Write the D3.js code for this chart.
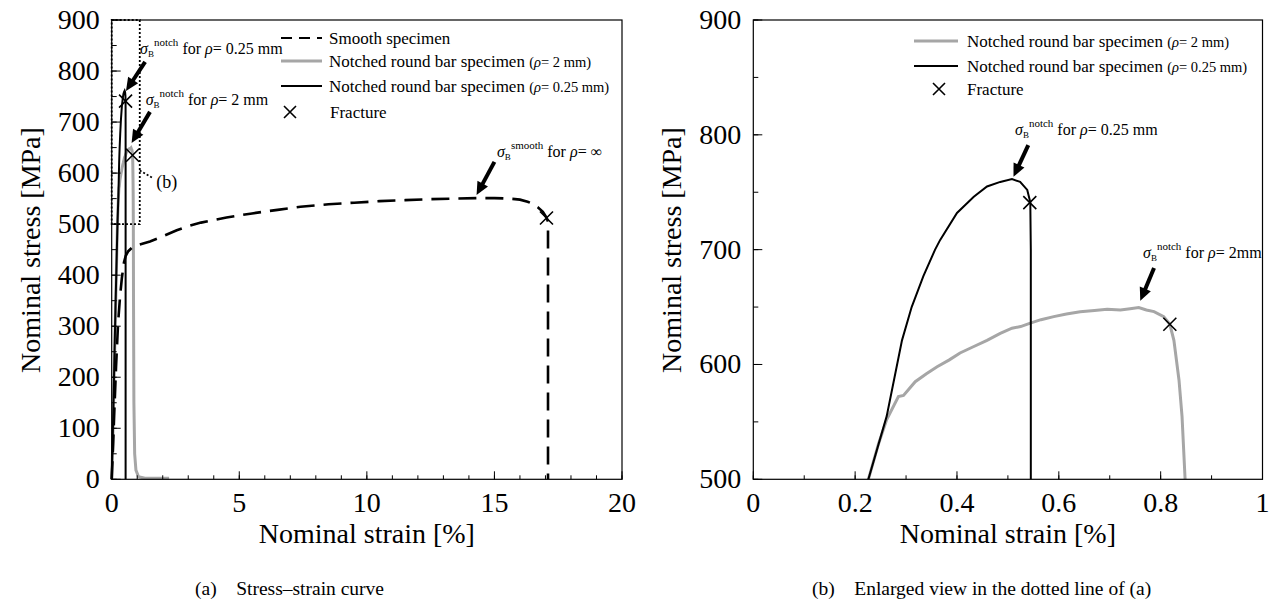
<!DOCTYPE html>
<html><head><meta charset="utf-8">
<script src="https://cdn.jsdelivr.net/npm/d3@7"></script>
<style>
html,body{margin:0;padding:0;background:#fff;}
svg, svg text{font-family:"Liberation Serif","Times New Roman",Times,"DejaVu Serif",serif;}
</style></head>
<body>
<svg id="c" width="1279" height="606" font-family="Liberation Serif, Times New Roman, Times, DejaVu Serif, serif"></svg>
<script>
// ---------- data ----------
const smoothStrain = [0,0.05,0.1,0.17,0.25,0.33,0.4,0.48,0.55,0.65,0.8,1.03,1.5,2.0,2.55,3.0,3.5,4.5,5.5,6.5,7.4,8.5,9.5,10.5,11.5,12.5,13.5,14.3,15.0,15.6,16.0,16.3,16.5,16.7,16.9,17.04,17.1,17.1,17.1];
const smoothStress = [0,60,130,220,306,360,395,425,438,447,454,459,466,476,488,496,503,513,521,528,534,539,542,545,547,549,550,551,551,550,548,544,540,533,524,513,505,300,0];

const notch2Strain = [0,0.04,0.09,0.15,0.2,0.226,0.246,0.262,0.285,0.295,0.318,0.34,0.361,0.385,0.406,0.43,0.459,0.485,0.508,0.525,0.544,0.565,0.59,0.615,0.642,0.67,0.695,0.721,0.74,0.757,0.772,0.787,0.806,0.818,0.826,0.836,0.842,0.848,0.855,0.87,0.9,0.95,1.05,1.3,2.25];
const notch2Stress = [0,70,190,330,445,500,531,552,572,573,585,592,598,604,610,615,621,627,631.6,633,636,639,641.7,644,646,647,648,647.5,648.5,649.5,647.5,646,641.7,635,621,586.5,554.5,500,350,150,50,18,5,2,2];

const notch025Strain = [0,0.04,0.09,0.15,0.2,0.226,0.262,0.292,0.311,0.334,0.357,0.367,0.4,0.433,0.459,0.485,0.508,0.524,0.538,0.543,0.544,0.545,0.545];
const notch025Stress = [0,80,200,340,445,500,555,621,650,677,700,708.5,732,746,755,759,761.4,759,752,743,741,700,0];

const fractureStrain = [0.543,0.818,17.04];
const fractureStress = [741,635,512];

const xTicksA = [0,5,10,15,20];
const yTicksA = [0,100,200,300,400,500,600,700,800,900];
const xTicksB = [0,0.2,0.4,0.6,0.8,1];
const yTicksB = [500,600,700,800,900];

// ---------- setup ----------
const svg = d3.select("#c");
const BLACK = "#000", GRAY = "#a6a6a6";
const zip = (a,b)=>a.map((v,i)=>[v,b[i]]);
const smooth = zip(smoothStrain, smoothStress);
const notch2 = zip(notch2Strain, notch2Stress);
const notch025 = zip(notch025Strain, notch025Stress);
const fractures = zip(fractureStrain, fractureStress);

function drawX(g, cx, cy, r){
  g.append("path").attr("d",`M${cx-r},${cy-r}L${cx+r},${cy+r}M${cx-r},${cy+r}L${cx+r},${cy-r}`)
   .attr("stroke",BLACK).attr("stroke-width",1.6).attr("fill","none");
}
function drawArrow(g, x0,y0,x1,y1){
  const dx=x1-x0, dy=y1-y0, L=Math.hypot(dx,dy), ux=dx/L, uy=dy/L;
  const hl=13, hw=6;
  const bx=x1-ux*hl, by=y1-uy*hl;
  g.append("line").attr("x1",x0).attr("y1",y0).attr("x2",bx+ux*2).attr("y2",by+uy*2)
   .attr("stroke",BLACK).attr("stroke-width",4);
  g.append("path").attr("d",`M${x1},${y1}L${bx-uy*hw},${by+ux*hw}L${bx+uy*hw},${by-ux*hw}Z`).attr("fill",BLACK);
}
function sigmaLabel(g, x, y, sup, rest){
  const t = g.append("text").attr("x",x).attr("y",y).attr("font-size",16).attr("fill",BLACK);
  t.append("tspan").attr("font-style","italic").text("σ");
  t.append("tspan").attr("font-size",9).attr("dy",3).text("B");
  t.append("tspan").attr("font-size",11).attr("dy",-11).text(sup);
  t.append("tspan").attr("dy",8).text(" for ");
  t.append("tspan").attr("font-style","italic").text("ρ");
  t.append("tspan").text("= " + rest);
}
function axes(g, x, y, xMajor, xMinorStep, yMajor, yMinorStep, xFmt){
  const [x0,x1]=x.domain(), [y0,y1]=y.domain();
  const xm = d3.range(x0, x1+1e-9, xMinorStep);
  const ym = d3.range(y0, y1+1e-9, yMinorStep);
  g.selectAll(null).data(xm).enter().append("line")
    .attr("x1",d=>x(d)).attr("x2",d=>x(d)).attr("y1",y(y0)).attr("y2",y(y0)-4)
    .attr("stroke",BLACK).attr("stroke-width",1);
  g.selectAll(null).data(ym).enter().append("line")
    .attr("y1",d=>y(d)).attr("y2",d=>y(d)).attr("x1",x(x0)).attr("x2",x(x0)+5)
    .attr("stroke",BLACK).attr("stroke-width",1);
  g.selectAll(null).data(xMajor).enter().append("line")
    .attr("x1",d=>x(d)).attr("x2",d=>x(d)).attr("y1",y(y0)).attr("y2",y(y0)-8)
    .attr("stroke",BLACK).attr("stroke-width",1);
  g.selectAll(null).data(yMajor).enter().append("line")
    .attr("y1",d=>y(d)).attr("y2",d=>y(d)).attr("x1",x(x0)).attr("x2",x(x0)+9)
    .attr("stroke",BLACK).attr("stroke-width",1);
  g.append("rect").attr("x",x(x0)).attr("y",y(y1)).attr("width",x(x1)-x(x0)).attr("height",y(y0)-y(y1))
    .attr("fill","none").attr("stroke",BLACK).attr("stroke-width",1.2);
  g.selectAll(null).data(xMajor).enter().append("text")
    .attr("x",d=>x(d)).attr("y",y(y0)+33).attr("text-anchor","middle").attr("font-size",28).text(xFmt);
  g.selectAll(null).data(yMajor).enter().append("text")
    .attr("x",x(x0)-12).attr("y",d=>y(d)+9).attr("text-anchor","end").attr("font-size",28).text(d=>d);
}
function legendText(g, x, y, rho){
  const t = g.append("text").attr("x",x).attr("y",y).attr("font-size",17).text("Notched round bar specimen ");
  t.append("tspan").attr("font-size",14.5).text("(");
  t.append("tspan").attr("font-size",14.5).attr("font-style","italic").text("ρ");
  t.append("tspan").attr("font-size",14.5).text("= " + rho + ")");
}

// ================= (a) =================
const xA = d3.scaleLinear().domain([0,20]).range([111.7,622]);
const yA = d3.scaleLinear().domain([0,900]).range([479.3,20]);
const gA = svg.append("g");
const lineA = d3.line().x(d=>xA(d[0])).y(d=>yA(d[1]));
gA.append("path").datum(notch2).attr("d",lineA).attr("fill","none").attr("stroke",GRAY).attr("stroke-width",3);
gA.append("path").datum(notch025).attr("d",lineA).attr("fill","none").attr("stroke",BLACK).attr("stroke-width",2);
gA.append("path").datum(smooth).attr("d",lineA).attr("fill","none").attr("stroke",BLACK).attr("stroke-width",2.6)
  .attr("stroke-dasharray","18,9");
axes(gA, xA, yA, xTicksA, 1, yTicksA, 50, d=>d);
fractures.forEach(f=>drawX(gA, xA(f[0]), yA(f[1]), 6.5));
gA.append("rect").attr("x",xA(0)).attr("y",yA(900)).attr("width",xA(1.1)-xA(0)).attr("height",yA(500)-yA(900))
  .attr("fill","none").attr("stroke",BLACK).attr("stroke-width",1.8).attr("stroke-dasharray","2,2");
gA.append("line").attr("x1",xA(1.1)).attr("y1",yA(605)).attr("x2",xA(1.62)).attr("y2",yA(590))
  .attr("stroke",BLACK).attr("stroke-width",1.8).attr("stroke-dasharray","2,2");
gA.append("text").attr("x",xA(1.75)).attr("y",yA(570)).attr("font-size",18).text("(b)");
drawArrow(gA, xA(1.31), yA(818), xA(0.56), yA(761));
sigmaLabel(gA, xA(1.11), 54, "notch", "0.25 mm");
drawArrow(gA, xA(1.5), yA(720), xA(0.78), yA(659));
sigmaLabel(gA, xA(1.33), 105, "notch", "2 mm");
drawArrow(gA, xA(15.0), yA(622), xA(14.3), yA(557));
sigmaLabel(gA, xA(15.1), 157, "smooth", "∞");
const lgA = gA.append("g");
lgA.append("line").attr("x1",281).attr("x2",322).attr("y1",38).attr("y2",38).attr("stroke",BLACK).attr("stroke-width",2.2).attr("stroke-dasharray","11,7");
lgA.append("text").attr("x",329).attr("y",44).attr("font-size",17).text("Smooth specimen");
lgA.append("line").attr("x1",281).attr("x2",322).attr("y1",61).attr("y2",61).attr("stroke",GRAY).attr("stroke-width",3);
legendText(lgA, 329, 67, "2 mm");
lgA.append("line").attr("x1",281).attr("x2",322).attr("y1",86).attr("y2",86).attr("stroke",BLACK).attr("stroke-width",2);
legendText(lgA, 329, 92, "0.25 mm");
drawX(lgA, 290, 112, 6);
lgA.append("text").attr("x",330).attr("y",118).attr("font-size",17).text("Fracture");
gA.append("text").attr("x",(111.7+622)/2).attr("y",543).attr("text-anchor","middle").attr("font-size",28).text("Nominal strain [%]");
gA.append("text").attr("transform","translate(40,250) rotate(-90)").attr("text-anchor","middle").attr("font-size",28).text("Nominal stress [MPa]");
gA.append("text").attr("x",195).attr("y",595).attr("font-size",19.5).attr("xml:space","preserve").text("(a)    Stress–strain curve");

// ================= (b) =================
const xB = d3.scaleLinear().domain([0,1]).range([753.3,1262.5]);
const yB = d3.scaleLinear().domain([500,900]).range([479.3,20]);
const gB = svg.append("g");
svg.append("defs").append("clipPath").attr("id","clipB").append("rect")
  .attr("x",xB(0)).attr("y",yB(900)).attr("width",xB(1)-xB(0)).attr("height",yB(500)-yB(900));
const lineB = d3.line().x(d=>xB(d[0])).y(d=>yB(d[1]));
const cB = gB.append("g").attr("clip-path","url(#clipB)");
cB.append("path").datum(notch2).attr("d",lineB).attr("fill","none").attr("stroke",GRAY).attr("stroke-width",3);
cB.append("path").datum(notch025).attr("d",lineB).attr("fill","none").attr("stroke",BLACK).attr("stroke-width",2);
axes(gB, xB, yB, xTicksB, 0.1, yTicksB, 50, d=>d===0||d===1?d:d.toFixed(1));
fractures.filter(f=>f[0]<=1).forEach(f=>drawX(gB, xB(f[0]), yB(f[1]), 6.5));
drawArrow(gB, xB(0.540), yB(791), xB(0.511), yB(763.4));
sigmaLabel(gB, 1015, 135, "notch", "0.25 mm");
drawArrow(gB, xB(0.787), yB(684), xB(0.760), yB(655.4));
sigmaLabel(gB, 1143, 258, "notch", "2mm");
const lgB = gB.append("g");
lgB.append("line").attr("x1",914).attr("x2",958).attr("y1",41).attr("y2",41).attr("stroke",GRAY).attr("stroke-width",3);
legendText(lgB, 967, 47, "2 mm");
lgB.append("line").attr("x1",914).attr("x2",958).attr("y1",66).attr("y2",66).attr("stroke",BLACK).attr("stroke-width",2);
legendText(lgB, 967, 72, "0.25 mm");
drawX(lgB, 939, 89, 6);
lgB.append("text").attr("x",967).attr("y",95).attr("font-size",17).text("Fracture");
gB.append("text").attr("x",(753.3+1262.5)/2).attr("y",543).attr("text-anchor","middle").attr("font-size",28).text("Nominal strain [%]");
gB.append("text").attr("transform","translate(681,250) rotate(-90)").attr("text-anchor","middle").attr("font-size",28).text("Nominal stress [MPa]");
gB.append("text").attr("x",812).attr("y",595).attr("font-size",19.5).attr("xml:space","preserve").text("(b)    Enlarged view in the dotted line of (a)");
</script>
</body></html>
